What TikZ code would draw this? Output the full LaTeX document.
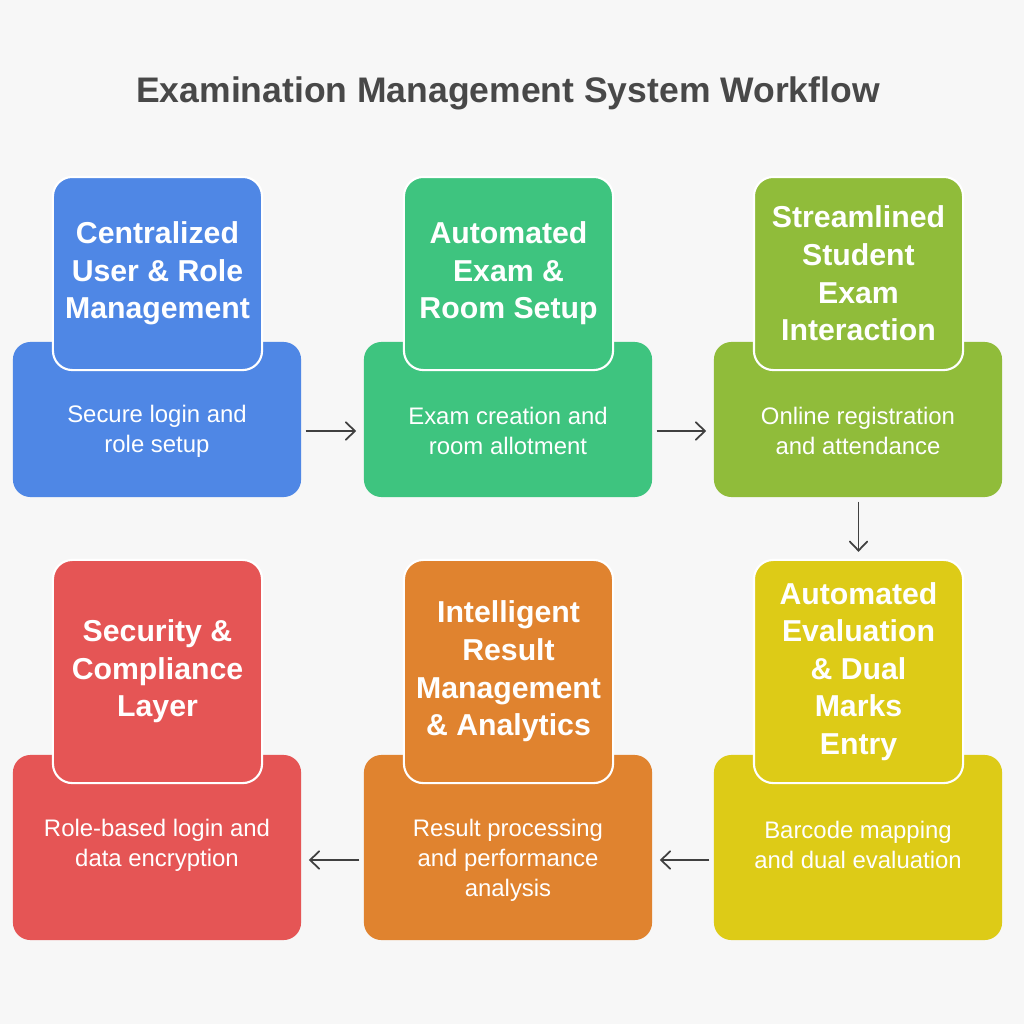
\documentclass[tikz,border=0pt]{standalone}
\usepackage{fontspec}
\setmainfont{Liberation Sans}
\usetikzlibrary{positioning, arrows.meta}

\definecolor{pagebg}{HTML}{F7F7F7}
\definecolor{titlegray}{HTML}{484848}
\definecolor{arrowgray}{HTML}{404040}
\definecolor{stepblue}{HTML}{4F87E5}
\definecolor{stepgreen}{HTML}{3EC47F}
\definecolor{steplime}{HTML}{90BC3A}
\definecolor{stepyellow}{HTML}{DDCB17}
\definecolor{steporange}{HTML}{E0832F}
\definecolor{stepred}{HTML}{E55555}

\begin{document}
\begin{tikzpicture}[x=0.01cm, y=-0.01cm,
    basebox/.style={rounded corners=5pt, minimum width=2.88cm, inner sep=0pt},
    headbox/.style={rounded corners=5.5pt, draw=white, line width=0.6pt,
        minimum width=2.09cm, inner sep=0pt, text=white, align=center,
        font=\bfseries\fontsize{8.6}{10.7}\selectfont},
    desctext/.style={text=white, align=center, inner sep=0pt,
        font=\fontsize{6.8}{8.5}\selectfont},
    flow/.style={draw=arrowgray, line width=0.5pt,
        -{Straight Barb[length=2.6pt, width=5pt, line cap=round]},
        shorten <=1.1pt, shorten >=2pt}]

    \fill[pagebg] (0,0) rectangle (1024,1024);
    \useasboundingbox (0,0) rectangle (1024,1024);

    \node[text=titlegray, font=\bfseries\fontsize{10.1}{12}\selectfont] (title) at (508,93)
        {Examination Management System Workflow};

    % Top row
    \node[basebox, fill=stepblue, minimum height=1.55cm] (b1) at (157,419.5) {};
    \node[headbox, fill=stepblue, minimum height=1.93cm] (t1) at (157.5,273.5)
        {Centralized\\User \& Role\\Management};
    \node[desctext] (d1) at (157,431) {Secure login and\\role setup};

    \node[basebox, fill=stepgreen, minimum height=1.55cm] (b2) at (508,419.5) {};
    \node[headbox, fill=stepgreen, minimum height=1.93cm] (t2) at (508.5,273.5)
        {Automated\\Exam \&\\Room Setup};
    \node[desctext] (d2) at (508,431) {Exam creation and\\room allotment};

    \node[basebox, fill=steplime, minimum height=1.55cm] (b3) at (858,419.5) {};
    \node[headbox, fill=steplime, minimum height=1.93cm] (t3) at (858.5,273.5)
        {Streamlined\\Student\\Exam\\Interaction};
    \node[desctext] (d3) at (858,431) {Online registration\\and attendance};

    % Bottom row
    \node[basebox, fill=stepyellow, minimum height=1.85cm] (b4) at (858,847.5) {};
    \node[headbox, fill=stepyellow, minimum height=2.23cm] (t4) at (858.5,671.5)
        {Automated\\Evaluation\\\& Dual\\Marks\\Entry};
    \node[desctext] (d4) at (858,845) {Barcode mapping\\and dual evaluation};

    \node[basebox, fill=steporange, minimum height=1.85cm] (b5) at (508,847.5) {};
    \node[headbox, fill=steporange, minimum height=2.23cm] (t5) at (508.5,671.5)
        {Intelligent\\Result\\Management\\\& Analytics};
    \node[desctext] (d5) at (508,860) {Result processing\\and performance\\analysis};

    \node[basebox, fill=stepred, minimum height=1.85cm] (b6) at (157,847.5) {};
    \node[headbox, fill=stepred, minimum height=2.23cm] (t6) at (157.5,671.5)
        {Security \&\\Compliance\\Layer};
    \node[desctext] (d6) at (157,845) {Role-based login and\\data encryption};

    % Connectors
    \draw[flow] (b1.east |- d1) -- (b2.west |- d1);
    \draw[flow] (b2.east |- d2) -- (b3.west |- d2);
    \draw[flow] (b3.south -| t3) -- (t4.north);
    \draw[flow] (b4.west |- d5) -- (b5.east |- d5);
    \draw[flow] (b5.west |- d5) -- (b6.east |- d5);
\end{tikzpicture}
\end{document}
